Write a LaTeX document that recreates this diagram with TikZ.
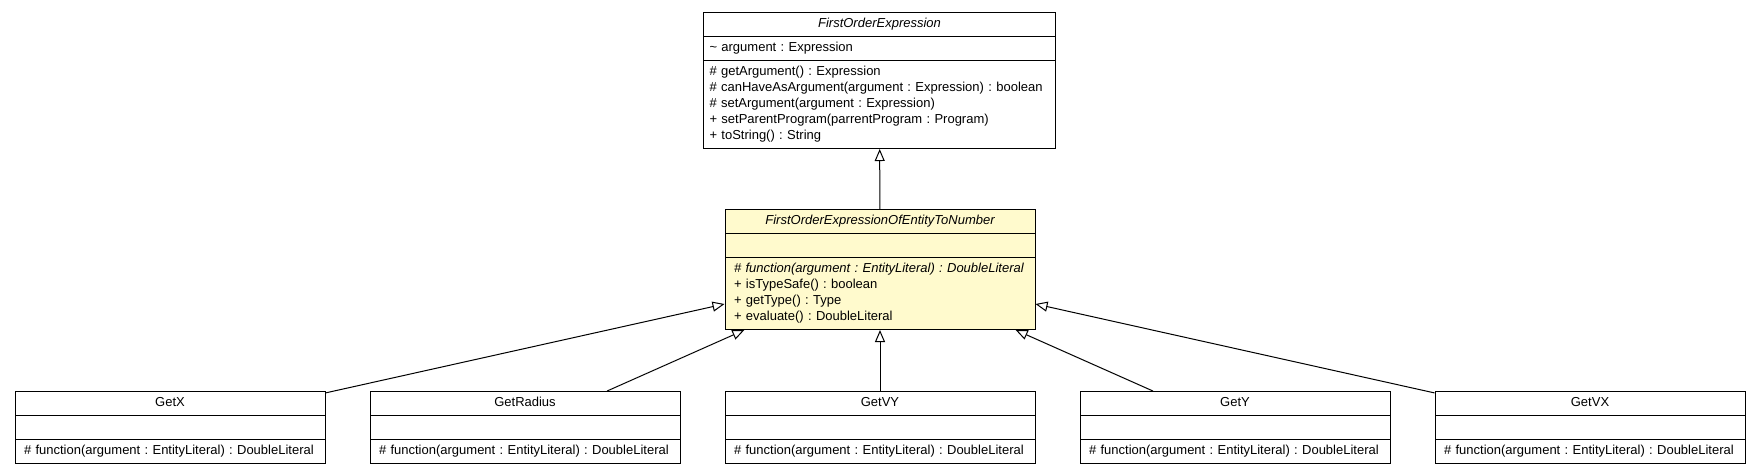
\documentclass[tikz,border=0pt]{standalone}
\usepackage{fontspec}
\setmainfont{Liberation Sans}
\usepackage{xcolor}
\usepackage{tikz}
\usetikzlibrary{shapes.multipart, arrows.meta}
\definecolor{lemon}{RGB}{255,250,205}
\hyphenpenalty=10000

\begin{document}
\begin{tikzpicture}[x=1pt, y=-1pt,
    umlclass/.style={draw=black, line width=1pt, fill=white,
        rectangle split, rectangle split parts=3, anchor=north,
        text width=#1, inner xsep=9pt, inner ysep=3.5pt, align=left,
        font=\fontsize{13}{16}\selectfont\frenchspacing},
    inherit/.style={-{Triangle[open, length=12pt, width=10pt]}, line width=1pt}]

    \useasboundingbox (0,0) rectangle (1760,475);

    % =================================================================
    % LỚP CHA TRỪU TƯỢNG Ở TRÊN CÙNG
    % =================================================================
    \node[umlclass=340pt, inner xsep=6pt] (foe) at (879.5,12)
        {\makebox[\hsize]{\itshape\strut FirstOrderExpression}
        \nodepart{two}\strut\textasciitilde{} argument : Expression
        \nodepart{three}\strut\# getArgument() : Expression\\
        \strut\# canHaveAsArgument(argument : Expression) : boolean\\
        \strut\# setArgument(argument : Expression)\\
        \strut+ setParentProgram(parrentProgram : Program)\\
        \strut+ toString() : String};

    % =================================================================
    % LỚP Ở GIỮA (TÔ MÀU VÀNG NHẠT)
    % =================================================================
    \node[umlclass=292pt, fill=lemon] (foetn) at (880,209)
        {\makebox[\hsize]{\itshape\strut FirstOrderExpressionOfEntityToNumber}
        \nodepart{two}\strut
        \nodepart{three}\strut{\itshape\# function(argument : EntityLiteral) : DoubleLiteral}\\
        \strut+ isTypeSafe() : boolean\\
        \strut+ getType() : Type\\
        \strut+ evaluate() : DoubleLiteral};

    % Mũi tên kế thừa lên lớp cha
    \draw[inherit] (foetn) -- (foe);

    % =================================================================
    % CÁC LỚP CON Ở HÀNG DƯỚI
    % =================================================================
    \node[umlclass=292pt] (getx) at (170,391)
        {\makebox[\hsize]{\strut GetX}
        \nodepart{two}\strut
        \nodepart{three}\strut\# function(argument : EntityLiteral) : DoubleLiteral};
    \node[umlclass=292pt] (getradius) at (525,391)
        {\makebox[\hsize]{\strut GetRadius}
        \nodepart{two}\strut
        \nodepart{three}\strut\# function(argument : EntityLiteral) : DoubleLiteral};
    \node[umlclass=292pt] (getvy) at (880,391)
        {\makebox[\hsize]{\strut GetVY}
        \nodepart{two}\strut
        \nodepart{three}\strut\# function(argument : EntityLiteral) : DoubleLiteral};
    \node[umlclass=292pt] (gety) at (1235,391)
        {\makebox[\hsize]{\strut GetY}
        \nodepart{two}\strut
        \nodepart{three}\strut\# function(argument : EntityLiteral) : DoubleLiteral};
    \node[umlclass=292pt] (getvx) at (1590,391)
        {\makebox[\hsize]{\strut GetVX}
        \nodepart{two}\strut
        \nodepart{three}\strut\# function(argument : EntityLiteral) : DoubleLiteral};

    % Vẽ các mũi tên kế thừa (tam giác rỗng)
    \draw[inherit] (getx) -- (foetn);
    \draw[inherit] (getradius) -- (foetn);
    \draw[inherit] (getvy) -- (foetn);
    \draw[inherit] (gety) -- (foetn);
    \draw[inherit] (getvx) -- (foetn);

\end{tikzpicture}
\end{document}
